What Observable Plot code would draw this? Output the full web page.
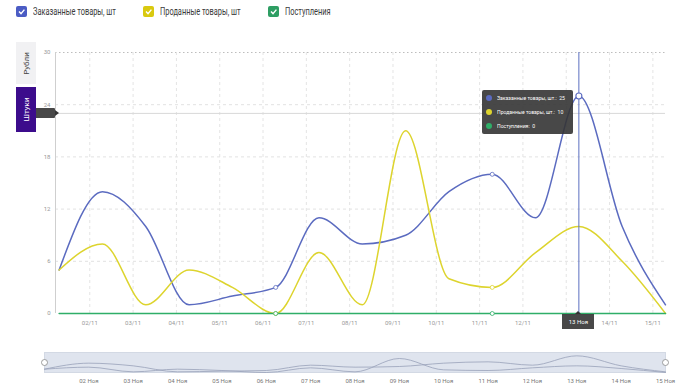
<!DOCTYPE html>
<html><head><meta charset="utf-8">
<script src="https://cdn.jsdelivr.net/npm/d3@7"></script>
<script src="https://cdn.jsdelivr.net/npm/@observablehq/plot@0.6"></script>
<style>
body{margin:0;width:693px;height:386px;overflow:hidden;font-family:Roboto,"Noto Sans",sans-serif;background:#fff;position:relative}
#legend{height:30px;position:relative}
.item{position:absolute;top:6px;font-size:10px;color:#3a3a3a;display:flex;align-items:center;white-space:nowrap}
.item .t{display:inline-block;transform:scaleX(0.74);transform-origin:left center}
.box{width:11px;height:11px;border-radius:2px;margin-right:6px;display:inline-block}
.box svg{display:block}
.tab{position:absolute;left:16px;width:20px;display:flex;align-items:center;justify-content:center;font-size:8px}
.tab span{transform:rotate(-90deg);white-space:nowrap;display:inline-block}
.ov{position:absolute;background:rgba(52,52,52,0.9);color:#fff;font-size:6px;border-radius:2px;white-space:nowrap}
svg{display:block}
</style></head>
<body>
<div id="legend"></div>
<div id="main"></div>
<div id="nav"></div>
<script>
// ---- data ----
const days = [1,2,3,4,5,6,7,8,9,10,11,12,13,14,15];
const ordered = [5,14,10,1,2,3,11,8,9,14,16,11,25,10,1];
const sold = [5,8,1,5,3,0,7,1,21,4,3,7,10,6,0];
const income = [0,0,0,0,0,0,0,0,0,0,0,0,0,0,0];
const seriesNames = ["Заказанные товары, шт","Проданные товары, шт","Поступления"];
const seriesColors = ["#5b6bc0","#ddd42e","#2fae68"];
const legendColors = ["#4b5cc4","#d9c90f","#2e9e63"];
const yTicks = [0,6,12,18,24,30];
const tickDays = [2,3,4,5,6,7,8,9,10,11,12,13,14,15];
const markerDays = [6,11];
const hoverDay = 13;
const cursorValue = 23;
const tabs = ["Рубли","Штуки"];
const monthShort = "Ноя";

// ---- build ----
const dateOf = d => new Date(Date.UTC(2023,10,d,7));
const midnight = d => new Date(Date.UTC(2023,10,d,0));
const allSeries = [ordered, sold, income];
const rows = [];
allSeries.forEach((vals,si)=>vals.forEach((v,i)=>rows.push({series:seriesNames[si], date:dateOf(days[i]), day:days[i], value:v})));
const color = {domain:seriesNames, range:seriesColors};

// legend
const leg = document.getElementById("legend");
const legX = [16,143,268];
seriesNames.forEach((n,i)=>{
  const it = document.createElement("div");
  it.className="item"; it.style.left=legX[i]+"px";
  it.innerHTML = `<span class="box" style="background:${legendColors[i]}"><svg width="11" height="11"><polyline points="3,5.6 5,7.6 8.4,3.6" fill="none" stroke="white" stroke-width="1.4"/></svg></span><span class="t">${n}</span>`;
  leg.appendChild(it);
});

const x0 = new Date(Date.UTC(2023,10,1,5));
const x1 = dateOf(15);
const fmtTick = d => d3.utcFormat("%d/%m")(d);

const main = Plot.plot({
  width:693, height:305, marginTop:22, marginBottom:22, marginLeft:55, marginRight:28,
  x:{type:"utc", domain:[x0,x1]},
  y:{domain:[0,30]},
  color,
  style:{fontFamily:"Roboto, sans-serif", fontSize:"6px", color:"#999", background:"transparent"},
  marks:[
    Plot.gridY(yTicks.filter(v=>v>0&&v<30), {stroke:"#e2e2e2", strokeOpacity:1, strokeDasharray:"3,3"}),
    Plot.ruleY([30], {stroke:"#bdbdbd", strokeDasharray:"1.5,2.5"}),
    Plot.gridX(tickDays.map(midnight), {stroke:"#e4e4e4", strokeOpacity:1, strokeDasharray:"3,3"}),
    Plot.ruleX([x0], {stroke:"#cfcfcf"}),
    Plot.axisY({ticks:yTicks, tickSize:0, tickPadding:5, label:null, fill:"#999"}),
    Plot.axisX({ticks:tickDays.filter(d=>d!==hoverDay).map(midnight), tickFormat:fmtTick, tickSize:0, tickPadding:7, label:null, fill:"#999"}),
    Plot.ruleY([cursorValue], {stroke:"#d8d8d8"}),
    Plot.line(rows, {x:"date", y:"value", stroke:"series", z:"series", curve:"monotone-x", strokeWidth:1.5}),
    Plot.dot(rows.filter(r=>markerDays.includes(r.day)), {x:"date", y:"value", stroke:"series", fill:"white", r:2, strokeWidth:0.8}),
    Plot.ruleX([dateOf(hoverDay)], {stroke:"#5b6fc0", strokeWidth:1}),
    Plot.dot(rows.filter(r=>r.day===hoverDay && r.series===seriesNames[0]), {x:"date", y:"value", stroke:"series", fill:"white", r:3, strokeWidth:1.1})
  ]
});
document.getElementById("main").appendChild(main);

// navigator
const nav = Plot.plot({
  width:693, height:51, marginTop:17, marginBottom:14, marginLeft:44, marginRight:28,
  x:{type:"utc", domain:[dateOf(days[0]), dateOf(days[days.length-1])]},
  y:{domain:[0,30], axis:null},
  style:{fontFamily:"Roboto, sans-serif", fontSize:"6px", color:"#777", background:"transparent"},
  marks:[
    Plot.frame({fill:"#dfe4ee", stroke:"#d3d9e4"}),
    Plot.line(rows.filter(r=>r.series!==seriesNames[2]), {x:"date", y:"value", z:"series", stroke:"#98a1b9", strokeWidth:0.8, curve:"monotone-x"}),
    Plot.axisX({ticks:tickDays.map(dateOf), tickFormat:d=>d3.utcFormat("%d")(d)+" "+monthShort, tickSize:0, tickPadding:6, label:null, fill:"#777"}),
    Plot.dot([dateOf(days[0]), dateOf(days[days.length-1])], {x:d=>d, y:()=>15, r:3, fill:"white", stroke:"#888", strokeWidth:0.8})
  ]
});
document.getElementById("nav").appendChild(nav);

// overlays (positioned by the chart's own scales)
const sx = main.scale("x"), sy = main.scale("y");
const top0 = 30;
const hx = sx.apply(dateOf(hoverDay));
const peakY = sy.apply(ordered[days.indexOf(hoverDay)]) + top0;
const body = document.body;
function ov(html, css){ const d=document.createElement("div"); d.className="ov"; d.innerHTML=html; Object.assign(d.style, css); body.appendChild(d); return d; }

// tooltip
const vals = allSeries.map(s=>s[days.indexOf(hoverDay)]);
ov(seriesNames.map((n,i)=>`<div style="display:flex;align-items:center;height:14px"><span style="width:6px;height:6px;border-radius:50%;background:${seriesColors[i]};display:inline-block;margin:0 5px 0 4px;flex:none"></span><span style="display:inline-block;transform:scaleX(0.85);transform-origin:left center">${n.replace(", шт",", шт.")}:&nbsp; ${vals[i]}</span></div>`).join(""),
  {left:(hx-96)+"px", top:(peakY-6)+"px", width:"91px", height:"44px", padding:"1px 0", boxSizing:"border-box", display:"flex", flexDirection:"column", justifyContent:"center"});

// date label
const baseY = sy.apply(0) + top0;
ov(`${hoverDay} ${monthShort}`, {left:(hx-16)+"px", top:(baseY+1)+"px", width:"32px", height:"15px", lineHeight:"15px", textAlign:"center", borderRadius:"0"});
const tri = document.createElement("div");
Object.assign(tri.style,{position:"absolute", left:(hx-3)+"px", top:(baseY-2)+"px", width:"0", height:"0", borderLeft:"3px solid transparent", borderRight:"3px solid transparent", borderBottom:"3px solid #333"});
body.appendChild(tri);

// cursor value label
const cy = sy.apply(cursorValue) + top0;
ov(`${cursorValue}`, {left:"23px", top:(cy-5)+"px", width:"32px", height:"10px", lineHeight:"10px", paddingLeft:"3px", boxSizing:"border-box", borderRadius:"1px"});
const tri2 = document.createElement("div");
Object.assign(tri2.style,{position:"absolute", left:"55px", top:(cy-3)+"px", width:"0", height:"0", borderTop:"3px solid transparent", borderBottom:"3px solid transparent", borderLeft:"4px solid #343434"});
body.appendChild(tri2);

// tabs
const t1 = document.createElement("div"); t1.className="tab"; Object.assign(t1.style,{top:"42px", height:"42px", background:"#f1f1f3", color:"#444"}); t1.innerHTML=`<span>${tabs[0]}</span>`; body.appendChild(t1);
const t2 = document.createElement("div"); t2.className="tab"; Object.assign(t2.style,{top:"87px", height:"45px", background:"#3c0c8c", color:"#fff"}); t2.innerHTML=`<span>${tabs[1]}</span>`; body.appendChild(t2);
</script>
</body></html>
